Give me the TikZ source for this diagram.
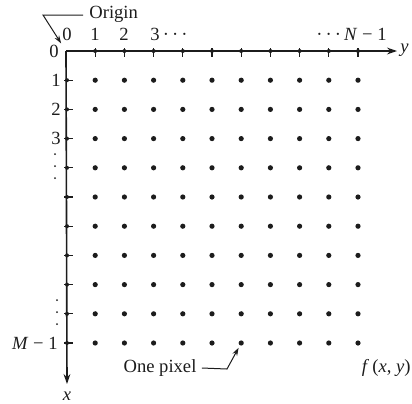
\documentclass[tikz,border=0pt]{standalone}
\usepackage{fontspec}
\setmainfont{Liberation Serif}
\usetikzlibrary{arrows.meta, positioning}
\definecolor{InkDark}{HTML}{1C1C1C}

\begin{document}
\begin{tikzpicture}[x=0.5pt, y=-0.5pt, font=\fontsize{9.3}{11}\selectfont, text=InkDark,
  pixel/.style={circle, fill=InkDark, inner sep=0pt, minimum size=2.6pt},
  tickdot/.style={circle, fill=InkDark, inner sep=0pt, minimum size=2pt},
  axis/.style={draw=InkDark, line width=0.8pt, -{Stealth[length=5pt, width=3.4pt]}},
  pointer/.style={draw=InkDark, line width=0.5pt, -{Stealth[length=4pt, width=2.6pt]}},
  lbl/.style={inner sep=1pt}]
  \useasboundingbox (0,0) rectangle (412,403);

  % axes
  \node[inner sep=0pt] (org) at (66,51) {};
  \coordinate (yend) at (397,51);
  \coordinate (xend) at (67,384);
  \draw[axis] (org.center) -- (yend);
  \draw[axis] (org.center) -- (xend);
  \node[lbl, anchor=west] (ylab) at (398,50) {\textit{y}};
  \node[lbl] (xlab) at (67,396) {\textit{x}};

  % ticks on both axes
  \foreach \k in {1,...,10} {
    \draw[InkDark, line width=0.55pt] ({66+29.2*\k},48) -- ({66+29.2*\k},57);
    \node[tickdot] (ty-\k) at ({66+29.2*\k},51) {};
    \draw[InkDark, line width=0.55pt] (64,{51+29.2*\k}) -- (73,{51+29.2*\k});
    \node[tickdot] (tx-\k) at (67,{51+29.2*\k}) {};
  }

  % the pixels
  \foreach \r in {1,...,10}
    \foreach \c in {1,...,10}
      \node[pixel] (p-\r-\c) at ({66+29.2*\c},{51+29.2*\r}) {};

  % column numbers
  \node[lbl] (c0) at (67,34) {0};
  \node[lbl] (c1) at (95,34) {1};
  \node[lbl] (c2) at (124,34) {2};
  \node[lbl, anchor=west] (c3) at (148,34) {3\,·\,·\,·};
  \node[lbl, anchor=east] (cN) at (389,34) {·\,·\,·\,\textit{N} − 1};

  % row numbers
  \node[lbl] (r0) at (54,51) {0};
  \node[lbl] (r1) at (56,80) {1};
  \node[lbl] (r2) at (56,109) {2};
  \node[lbl] (r3) at (56,138) {3};
  \foreach \d in {154,166,178} \fill[InkDark] (55,\d) circle (0.5pt);
  \foreach \d in {300,312,324} \fill[InkDark] (57,\d) circle (0.5pt);
  \node[lbl, anchor=east] (rM) at (60,343) {\textit{M} − 1};

  % origin pointer
  \node[lbl, anchor=west] (origin) at (87,14) {Origin};
  \coordinate (obend) at (43,15);
  \draw[pointer, shorten >=4.5pt] (origin.west) ++(-4,1) -- (obend) -- (org.center);

  % one pixel pointer
  \node[lbl] (onepix) at (160,368) {One pixel};
  \coordinate (pbend) at (227,369);
  \draw[pointer, shorten >=1.2pt] (onepix.east) ++(3,0) -- (pbend) -- (p-10-6);

  \node[lbl, anchor=east] (fxy) at (413,368) {\textit{f}\,(\textit{x}, \textit{y})};
\end{tikzpicture}
\end{document}
